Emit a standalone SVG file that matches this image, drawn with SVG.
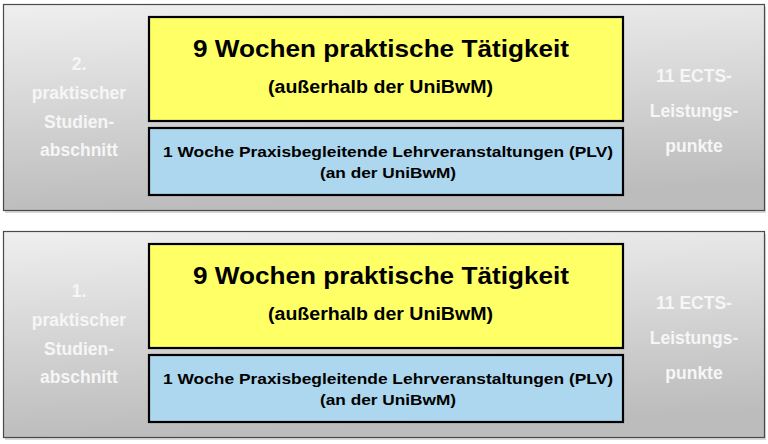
<svg xmlns="http://www.w3.org/2000/svg" width="768" height="444" viewBox="0 0 768 444">
<defs>
<linearGradient id="pg" x1="0" y1="0" x2="0.15" y2="1">
<stop offset="0" stop-color="#efefef"/>
<stop offset="1" stop-color="#bcbcbc"/>
</linearGradient>
<style>
.panel{fill:url(#pg);stroke:#4a4a4a;stroke-width:1.2}
.shadow{fill:#000;opacity:0.15}
.yel{fill:#ffff66;stroke:#000;stroke-width:2.2}
.blu{fill:#acd7ee;stroke:#000;stroke-width:2.2}
text{font-family:"Liberation Sans",Arial,sans-serif;font-weight:bold;text-anchor:middle}
.side{fill:#f6f6f6;font-size:17.5px}
.t1{fill:#000;font-size:24px}
.t2{fill:#000;font-size:18px}
.t3{fill:#000;font-size:15.5px}
</style>
</defs>
<rect width="768" height="444" fill="#fff"/>
<g id="panel2">
<rect class="shadow" x="5" y="7" width="761" height="206"/>
<rect class="panel" x="3.5" y="4.5" width="761" height="206"/>
<text class="side" x="79" y="70">2.</text>
<text class="side" x="79" y="99">praktischer</text>
<text class="side" x="79" y="128">Studien-</text>
<text class="side" x="79" y="156">abschnitt</text>
<text class="side" x="694" y="82">11 ECTS-</text>
<text class="side" x="694" y="117">Leistungs-</text>
<text class="side" x="694" y="152">punkte</text>
</g>
<g id="work2">
<rect class="yel" x="149" y="17" width="474" height="104"/>
<text class="t1" x="381" y="57" textLength="376" lengthAdjust="spacingAndGlyphs">9 Wochen praktische Tätigkeit</text>
<text class="t2" x="380.5" y="93" textLength="225" lengthAdjust="spacingAndGlyphs">(außerhalb der UniBwM)</text>
</g>
<g id="plv2">
<rect class="blu" x="149" y="128" width="474" height="67"/>
<text class="t3" x="388" y="157" textLength="450" lengthAdjust="spacingAndGlyphs">1 Woche Praxisbegleitende Lehrveranstaltungen (PLV)</text>
<text class="t3" x="388" y="178" textLength="136" lengthAdjust="spacingAndGlyphs">(an der UniBwM)</text>
</g>
<g id="panel1">
<rect class="shadow" x="5" y="234" width="761" height="206"/>
<rect class="panel" x="3.5" y="231.5" width="761" height="206"/>
<text class="side" x="79" y="297">1.</text>
<text class="side" x="79" y="326">praktischer</text>
<text class="side" x="79" y="355">Studien-</text>
<text class="side" x="79" y="383">abschnitt</text>
<text class="side" x="694" y="309">11 ECTS-</text>
<text class="side" x="694" y="344">Leistungs-</text>
<text class="side" x="694" y="379">punkte</text>
</g>
<g id="work1">
<rect class="yel" x="149" y="244" width="474" height="104"/>
<text class="t1" x="381" y="284" textLength="376" lengthAdjust="spacingAndGlyphs">9 Wochen praktische Tätigkeit</text>
<text class="t2" x="380.5" y="320" textLength="225" lengthAdjust="spacingAndGlyphs">(außerhalb der UniBwM)</text>
</g>
<g id="plv1">
<rect class="blu" x="149" y="355" width="474" height="67"/>
<text class="t3" x="388" y="384" textLength="450" lengthAdjust="spacingAndGlyphs">1 Woche Praxisbegleitende Lehrveranstaltungen (PLV)</text>
<text class="t3" x="388" y="405" textLength="136" lengthAdjust="spacingAndGlyphs">(an der UniBwM)</text>
</g>
<g id="connectors"/>
</svg>
